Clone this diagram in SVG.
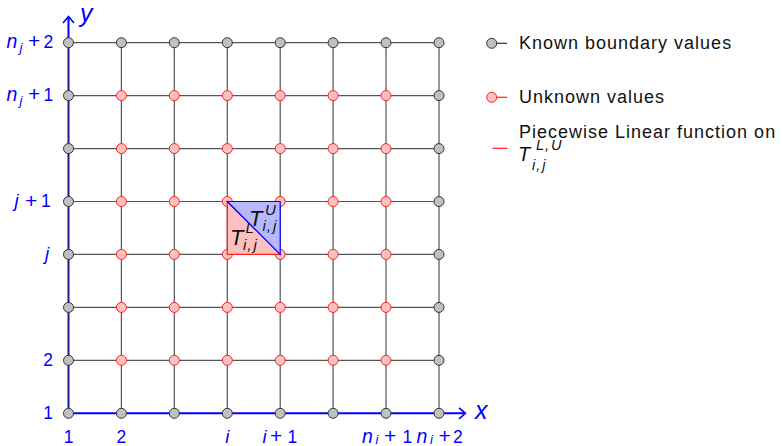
<svg xmlns="http://www.w3.org/2000/svg" width="782" height="446" viewBox="0 0 782 446">
<style>
.g{stroke:#555;stroke-width:1.2;fill:none}
.kn{fill:#c0c0c0;stroke:#333;stroke-width:1}
.un{fill:#ffc0c0;stroke:#ff2020;stroke-width:1}
.lb{font-family:"Liberation Sans",Arial,sans-serif;font-size:17.5px;fill:#0000ff}
.it{font-style:italic}
.lg{font-family:"Liberation Sans",Arial,sans-serif;font-size:18px;fill:#111;letter-spacing:1px}
.m{font-family:"Liberation Sans",Arial,sans-serif;font-size:22px;font-style:italic;fill:#111}
</style>
<rect width="782" height="446" fill="#fff"/>
<g id="grid">
<path class="g" d="M68.5,42.7H439M68.5,95.6H439M68.5,148.6H439M68.5,201.5H439M68.5,254.4H439M68.5,307.4H439M68.5,360.3H439M121.4,42.7V413.3M174.3,42.7V413.3M227.3,42.7V413.3M280.2,42.7V413.3M333.1,42.7V413.3M386,42.7V413.3M439,42.7V413.3"/>
</g>
<g id="axes" fill="none">
<path d="M68.5,413.3V42.7" stroke="#1c1c8c" stroke-width="2"/>
<path d="M68.5,42.7V17" stroke="#0000ff" stroke-width="2"/>
<path d="M63,23L68.5,16.5L74,23" stroke="#0000ff" stroke-width="1.6"/>
<path d="M68.5,413.3H465" stroke="#0000ff" stroke-width="2"/>
<path d="M459,407.8L465.5,413.3L459,418.8" stroke="#0000ff" stroke-width="1.6"/>
</g>
<g id="nodes">
<circle class="kn" cx="68.5" cy="42.7" r="5"/><circle class="kn" cx="121.4" cy="42.7" r="5"/><circle class="kn" cx="174.3" cy="42.7" r="5"/><circle class="kn" cx="227.3" cy="42.7" r="5"/><circle class="kn" cx="280.2" cy="42.7" r="5"/><circle class="kn" cx="333.1" cy="42.7" r="5"/><circle class="kn" cx="386" cy="42.7" r="5"/><circle class="kn" cx="439" cy="42.7" r="5"/>
<circle class="kn" cx="68.5" cy="413.3" r="5"/><circle class="kn" cx="121.4" cy="413.3" r="5"/><circle class="kn" cx="174.3" cy="413.3" r="5"/><circle class="kn" cx="227.3" cy="413.3" r="5"/><circle class="kn" cx="280.2" cy="413.3" r="5"/><circle class="kn" cx="333.1" cy="413.3" r="5"/><circle class="kn" cx="386" cy="413.3" r="5"/><circle class="kn" cx="439" cy="413.3" r="5"/>
<circle class="kn" cx="68.5" cy="95.6" r="5"/><circle class="kn" cx="68.5" cy="148.6" r="5"/><circle class="kn" cx="68.5" cy="201.5" r="5"/><circle class="kn" cx="68.5" cy="254.4" r="5"/><circle class="kn" cx="68.5" cy="307.4" r="5"/><circle class="kn" cx="68.5" cy="360.3" r="5"/>
<circle class="kn" cx="439" cy="95.6" r="5"/><circle class="kn" cx="439" cy="148.6" r="5"/><circle class="kn" cx="439" cy="201.5" r="5"/><circle class="kn" cx="439" cy="254.4" r="5"/><circle class="kn" cx="439" cy="307.4" r="5"/><circle class="kn" cx="439" cy="360.3" r="5"/>
<circle class="un" cx="121.4" cy="95.6" r="5"/><circle class="un" cx="174.3" cy="95.6" r="5"/><circle class="un" cx="227.3" cy="95.6" r="5"/><circle class="un" cx="280.2" cy="95.6" r="5"/><circle class="un" cx="333.1" cy="95.6" r="5"/><circle class="un" cx="386" cy="95.6" r="5"/>
<circle class="un" cx="121.4" cy="148.6" r="5"/><circle class="un" cx="174.3" cy="148.6" r="5"/><circle class="un" cx="227.3" cy="148.6" r="5"/><circle class="un" cx="280.2" cy="148.6" r="5"/><circle class="un" cx="333.1" cy="148.6" r="5"/><circle class="un" cx="386" cy="148.6" r="5"/>
<circle class="un" cx="121.4" cy="201.5" r="5"/><circle class="un" cx="174.3" cy="201.5" r="5"/><circle class="un" cx="227.3" cy="201.5" r="5"/><circle class="un" cx="280.2" cy="201.5" r="5"/><circle class="un" cx="333.1" cy="201.5" r="5"/><circle class="un" cx="386" cy="201.5" r="5"/>
<circle class="un" cx="121.4" cy="254.4" r="5"/><circle class="un" cx="174.3" cy="254.4" r="5"/><circle class="un" cx="227.3" cy="254.4" r="5"/><circle class="un" cx="280.2" cy="254.4" r="5"/><circle class="un" cx="333.1" cy="254.4" r="5"/><circle class="un" cx="386" cy="254.4" r="5"/>
<circle class="un" cx="121.4" cy="307.4" r="5"/><circle class="un" cx="174.3" cy="307.4" r="5"/><circle class="un" cx="227.3" cy="307.4" r="5"/><circle class="un" cx="280.2" cy="307.4" r="5"/><circle class="un" cx="333.1" cy="307.4" r="5"/><circle class="un" cx="386" cy="307.4" r="5"/>
<circle class="un" cx="121.4" cy="360.3" r="5"/><circle class="un" cx="174.3" cy="360.3" r="5"/><circle class="un" cx="227.3" cy="360.3" r="5"/><circle class="un" cx="280.2" cy="360.3" r="5"/><circle class="un" cx="333.1" cy="360.3" r="5"/><circle class="un" cx="386" cy="360.3" r="5"/>
</g>
<g id="triangles">
<path d="M227.3,201.5L227.3,254.4L280.2,254.4Z" fill="#ffc0c0" stroke="#ff2020" stroke-width="1.2"/>
<path d="M227.3,201.5L280.2,201.5L280.2,254.4Z" fill="#b8b8ff" stroke="#0000ff" stroke-width="1.2"/>
<text class="m" x="249" y="226">T<tspan font-size="15" x="265" y="215">U</tspan><tspan font-size="15" x="262.5" y="231">i<tspan dx="1">,</tspan><tspan dx="2">j</tspan></tspan></text>
<text class="m" x="230" y="245">T<tspan font-size="15" x="245.5" y="232.5">L</tspan><tspan font-size="15" x="243" y="250">i<tspan dx="1">,</tspan><tspan dx="2">j</tspan></tspan></text>
</g>
<g id="labels">
<text class="lb" y="47.5"><tspan class="it" x="6.5" font-size="19.5">n</tspan><tspan class="it" x="19.5" y="51.5" font-size="13">j</tspan><tspan x="28" y="48.3" font-size="21">+</tspan><tspan x="43.5" y="47.5">2</tspan></text>
<text class="lb" y="100.5"><tspan class="it" x="6.5" font-size="19.5">n</tspan><tspan class="it" x="19.5" y="104.5" font-size="13">j</tspan><tspan x="28" y="101.3" font-size="21">+</tspan><tspan x="43.5" y="100.5">1</tspan></text>
<text class="lb" y="207"><tspan class="it" x="14.5" font-size="18.5">j</tspan><tspan x="25" y="207.8" font-size="21">+</tspan><tspan x="41" y="207">1</tspan></text>
<text class="lb" y="260"><tspan class="it" x="45" font-size="18.5">j</tspan></text>
<text class="lb" x="53" y="366" text-anchor="end">2</text>
<text class="lb" x="53" y="419" text-anchor="end">1</text>
<text class="lb" x="68.5" y="442.5" text-anchor="middle">1</text>
<text class="lb" x="121.4" y="442.5" text-anchor="middle">2</text>
<text class="lb it" x="227.3" y="442.5" text-anchor="middle" style="font-size:18.5px">i</text>
<text class="lb" y="442.5"><tspan class="it" x="262.5" font-size="18.5">i</tspan><tspan x="270" y="443.3" font-size="21">+</tspan><tspan x="287.5" y="442.5">1</tspan></text>
<text class="lb" y="442.5"><tspan class="it" x="362" font-size="19.5">n</tspan><tspan class="it" x="375.5" y="443.5" font-size="13">i</tspan><tspan x="384" y="443.3" font-size="21">+</tspan><tspan x="402.5" y="442.5">1</tspan></text>
<text class="lb" y="442.5"><tspan class="it" x="416.5" font-size="19.5">n</tspan><tspan class="it" x="430" y="443.5" font-size="13">i</tspan><tspan x="438.5" y="443.3" font-size="21">+</tspan><tspan x="453" y="442.5">2</tspan></text>
<text class="lb it" x="80" y="22" style="font-size:25px">y</text>
<text class="lb it" x="475" y="419" style="font-size:25px">x</text>
</g>
<g id="legend">
<line x1="492" y1="43.3" x2="507" y2="43.3" stroke="#333" stroke-width="1.2"/>
<circle class="kn" cx="491.7" cy="43.3" r="5"/>
<text class="lg" x="519" y="48.5">Known boundary values</text>
<line x1="492" y1="97.3" x2="507" y2="97.3" stroke="#ff2020" stroke-width="1.2"/>
<circle class="un" cx="491.7" cy="97.3" r="5"/>
<text class="lg" x="519" y="102.5">Unknown values</text>
<line x1="492.7" y1="148.3" x2="507.3" y2="148.3" stroke="#ff2020" stroke-width="1.2"/>
<text class="lg" x="519" y="137.5">Piecewise Linear function on</text>
<text class="m" x="518" y="161" style="font-size:20px">T<tspan font-size="14.5" x="536" y="149.5">L<tspan dx="1">,</tspan><tspan dx="2">U</tspan></tspan><tspan font-size="14.5" x="532" y="169.5">i<tspan dx="1">,</tspan><tspan dx="2">j</tspan></tspan></text>
</g>
</svg>
